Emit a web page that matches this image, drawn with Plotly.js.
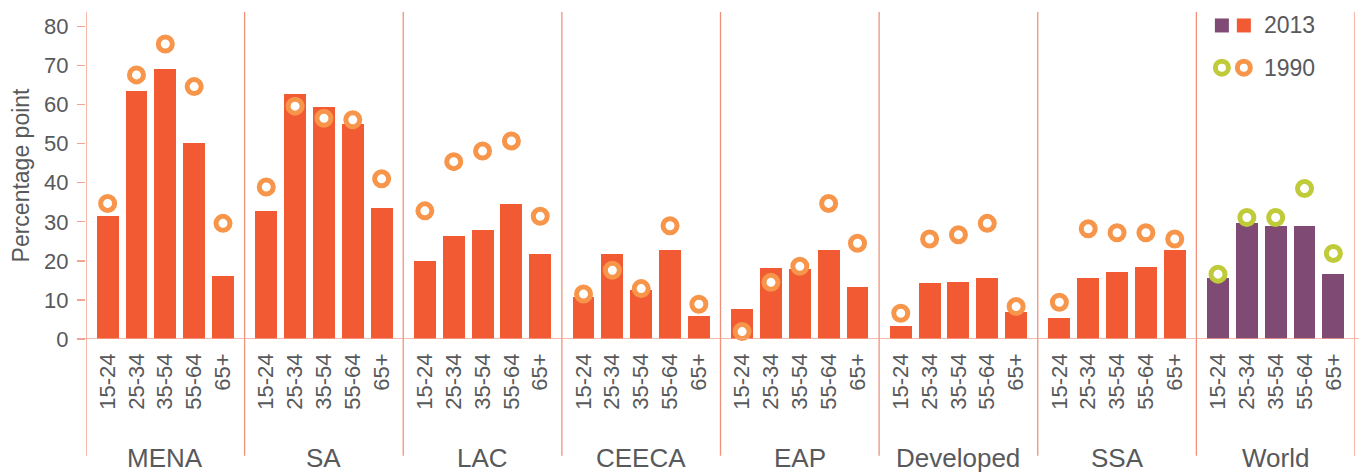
<!DOCTYPE html>
<html>
<head>
<meta charset="utf-8">
<script src="https://cdn.plot.ly/plotly-3.0.1.min.js"></script>
<style>
html,body{margin:0;padding:0;background:#fff;}
#chart{width:1368px;height:472px;}
</style>
</head>
<body>
<div id="chart"></div>
<script>
// ---- data ----
const regions = ['MENA', 'SA', 'LAC', 'CEECA', 'EAP', 'Developed', 'SSA', 'World'];
const ages = ['15-24', '25-34', '35-54', '55-64', '65+'];

const share2013 = [
  [31.4, 63.6, 69.0, 50.1, 16.1],   // MENA
  [32.7, 62.6, 59.3, 55.0, 33.5],   // SA
  [19.9, 26.3, 27.9, 34.5, 21.7],   // LAC
  [10.7, 21.7, 12.5, 22.7, 5.9],    // CEECA
  [7.7, 18.1, 17.9, 22.7, 13.3],    // EAP
  [3.3, 14.3, 14.6, 15.6, 6.9],     // Developed
  [5.4, 15.6, 17.1, 18.4, 22.7],    // SSA
  [15.6, 29.6, 28.9, 28.9, 16.6]    // World
];
const share1990 = [
  [34.7, 67.6, 75.5, 64.6, 29.6],
  [38.9, 59.6, 56.5, 56.1, 41.0],
  [32.8, 45.4, 48.1, 50.7, 31.4],
  [11.5, 17.6, 12.9, 29.0, 8.9],
  [1.9, 14.5, 18.6, 34.7, 24.5],
  [6.6, 25.6, 26.7, 29.6, 8.3],
  [9.4, 28.2, 27.2, 27.2, 25.6],
  [16.6, 31.1, 31.1, 38.5, 21.9]
];
const yTicks = [0, 10, 20, 30, 40, 50, 60, 70, 80];
const legendLabels = ['2013', '1990'];

// ---- styling ----
const BAR_REGION = '#F15A32', BAR_WORLD = '#7F4A73';
const DOT_REGION = '#F7954A', DOT_WORLD = '#BFCB38';
const TEXT = '#58595B';
const LINE = '#F2917B';
const FONT = 'Liberation Sans, Arial, sans-serif';
const GROUP = 5.5, OFFSET = 0.75;

const xs = [], yb = [], yd = [], cb = [], cd = [], tv = [], tt = [];
regions.forEach((r, g) => {
  ages.forEach((a, i) => {
    const x = g * GROUP + OFFSET + i;
    xs.push(x); tv.push(x); tt.push(a);
    yb.push(share2013[g][i]);
    yd.push(share1990[g][i]);
    const w = r === 'World';
    cb.push(w ? BAR_WORLD : BAR_REGION);
    cd.push(w ? DOT_WORLD : DOT_REGION);
  });
});

const RING = {size: 14, width: 5};

const traces = [
  {type: 'bar', x: xs, y: yb, width: 0.76, marker: {color: cb}, hoverinfo: 'y', showlegend: false},
  {type: 'scatter', mode: 'markers', x: xs, y: yd, cliponaxis: false,
   marker: {symbol: 'circle', color: '#ffffff', size: RING.size, line: {width: RING.width, color: cd}},
   hoverinfo: 'y', showlegend: false},
  // legend swatches on an invisible overlay axis
  {type: 'scatter', mode: 'markers', xaxis: 'x2', yaxis: 'y2', x: [0.8951, 0.9124], y: [0.9588, 0.9588],
   marker: {symbol: 'square', size: 14, color: [BAR_WORLD, BAR_REGION]}, hoverinfo: 'skip', showlegend: false, cliponaxis: false},
  {type: 'scatter', mode: 'markers', xaxis: 'x2', yaxis: 'y2', x: [0.8951, 0.9124], y: [0.8296, 0.8296],
   marker: {symbol: 'circle', size: RING.size - 1, color: '#ffffff', line: {width: RING.width, color: [DOT_WORLD, DOT_REGION]}},
   hoverinfo: 'skip', showlegend: false, cliponaxis: false}
];

const shapes = [];
for (let g = 0; g <= regions.length; g++) {
  shapes.push({type: 'line', xref: 'x', yref: 'paper', x0: g * GROUP, x1: g * GROUP, y0: -0.357, y1: 1,
    line: {color: LINE, width: 1.3}, layer: 'above'});
}
shapes.push({type: 'line', xref: 'paper', yref: 'y', x0: -0.005, x1: 1.003, y0: 0, y1: 0,
  line: {color: '#F4A592', width: 1.5}, layer: 'above'});

const annotations = regions.map((r, g) => ({
  text: r, xref: 'x', yref: 'paper', x: g * GROUP + GROUP / 2, y: -0.363,
  xanchor: 'center', yanchor: 'middle', showarrow: false,
  font: {family: FONT, size: 26, color: TEXT}
}));
legendLabels.forEach((t, k) => annotations.push({
  text: t, xref: 'paper', yref: 'paper', x: 0.927, y: k === 0 ? 0.9588 : 0.8296,
  xanchor: 'left', yanchor: 'middle', showarrow: false,
  font: {family: FONT, size: 23, color: TEXT}
}));

const layout = {
  width: 1368, height: 472,
  margin: {l: 85.7, r: 12.7, t: 11.5, b: 133},
  paper_bgcolor: '#ffffff', plot_bgcolor: '#ffffff',
  showlegend: false,
  bargap: 0,
  font: {family: FONT, color: TEXT},
  xaxis: {
    range: [0, regions.length * GROUP], tickvals: tv, ticktext: tt, tickangle: -90,
    tickfont: {family: FONT, size: 22, color: TEXT}, ticks: '', ticklabelstandoff: 9,
    showgrid: false, zeroline: false, showline: false, fixedrange: true
  },
  yaxis: {
    range: [0, 83.7], tickvals: yTicks, ticks: 'outside', ticklen: 8, tickwidth: 1.3, tickcolor: '#F4A592',
    tickfont: {family: FONT, size: 22, color: TEXT}, ticklabelstandoff: 4,
    showgrid: false, zeroline: false, showline: false, fixedrange: true,
    title: {text: 'Percentage point', font: {family: FONT, size: 23, color: TEXT}, standoff: 8}
  },
  xaxis2: {overlaying: 'x', range: [0, 1], visible: false, fixedrange: true},
  yaxis2: {overlaying: 'y', range: [0, 1], visible: false, fixedrange: true},
  shapes: shapes,
  annotations: annotations
};

Plotly.newPlot('chart', traces, layout, {displayModeBar: false, staticPlot: true});
</script>
</body>
</html>
